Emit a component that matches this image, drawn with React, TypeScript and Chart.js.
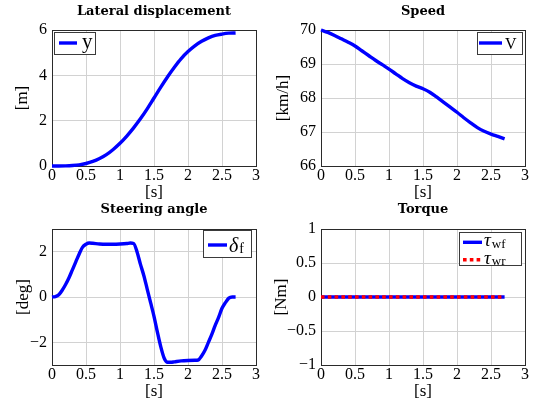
import React, { useEffect, useRef } from "react";
import { Chart, registerables } from "chart.js";

Chart.register(...registerables);

const SERIF = "'Liberation Serif', 'DejaVu Serif', serif";
const TITLE_FONT = "'DejaVu Serif', 'Liberation Serif', serif";
const GRID = "#d2d2d2";

// ---------- data ----------
const timeTicks = [0, 0.5, 1, 1.5, 2, 2.5, 3];

const latTime = [0, 0.1, 0.2, 0.3, 0.4, 0.5, 0.6, 0.7, 0.8, 0.9, 1.0, 1.1, 1.2, 1.3, 1.4, 1.5, 1.6, 1.7, 1.8, 1.9, 2.0, 2.1, 2.2, 2.3, 2.4, 2.5, 2.6, 2.7];
const latY = [0, 0, 0.005, 0.02, 0.05, 0.11, 0.2, 0.33, 0.5, 0.73, 1.0, 1.32, 1.68, 2.08, 2.52, 3.0, 3.48, 3.94, 4.36, 4.74, 5.05, 5.3, 5.5, 5.65, 5.76, 5.82, 5.86, 5.87];
const latTicks = [0, 2, 4, 6];

const speedTime = [0, 0.1, 0.2, 0.3, 0.4, 0.5, 0.6, 0.7, 0.8, 0.9, 1.0, 1.1, 1.2, 1.3, 1.4, 1.5, 1.6, 1.7, 1.8, 1.9, 2.0, 2.1, 2.2, 2.3, 2.4, 2.5, 2.6, 2.7];
const speedV = [70, 69.93, 69.84, 69.74, 69.64, 69.53, 69.39, 69.25, 69.11, 68.98, 68.85, 68.71, 68.57, 68.45, 68.35, 68.27, 68.17, 68.03, 67.88, 67.73, 67.58, 67.42, 67.27, 67.13, 67.02, 66.94, 66.87, 66.8];
const speedTicks = [66, 67, 68, 69, 70];

const steerTime = [0, 0.05, 0.1, 0.15, 0.2, 0.25, 0.3, 0.35, 0.4, 0.45, 0.5, 0.55, 0.6, 0.7, 0.8, 0.9, 1.0, 1.1, 1.15, 1.2, 1.25, 1.3, 1.35, 1.4, 1.45, 1.5, 1.55, 1.6, 1.65, 1.7, 1.75, 1.8, 1.9, 2.0, 2.1, 2.15, 2.2, 2.25, 2.3, 2.35, 2.4, 2.45, 2.5, 2.55, 2.6, 2.65, 2.7];
const steerDelta = [0, 0.02, 0.1, 0.3, 0.55, 0.85, 1.2, 1.55, 1.9, 2.2, 2.33, 2.38, 2.37, 2.34, 2.33, 2.33, 2.34, 2.36, 2.38, 2.36, 2.0, 1.45, 0.95, 0.35, -0.25, -0.85, -1.55, -2.2, -2.7, -2.88, -2.88, -2.86, -2.82, -2.8, -2.79, -2.78, -2.6, -2.35, -2.0, -1.65, -1.25, -0.9, -0.5, -0.25, -0.05, 0, 0];
const steerTicks = [-2, 0, 2];

const torqueTime = [0, 0.5, 1, 1.5, 2, 2.5, 2.7];
const tauWf = [0, 0, 0, 0, 0, 0, 0];
const tauWr = [0, 0, 0, 0, 0, 0, 0];
const torqueTicks = [-1, -0.5, 0, 0.5, 1];

// ---------- helpers ----------
const pts = (t: number[], v: number[]) => t.map((x, i) => ({ x, y: v[i] }));
const fmt = (v: any) => String(v).replace("-", "\u2212");

type LegendCfg = {
  anchor: "left" | "right";
  dx: number; dy: number; w: number; h: number;
  rows: number[]; sx: number; slen: number; tx: number;
  fs: number; ss: number; base: number; drop: number;
};

function makeLegendPlugin(cfg: LegendCfg) {
  return {
    id: "boxLegend",
    afterDraw(chart: any) {
      const { ctx, chartArea: a } = chart;
      const left = Math.round(cfg.anchor === "left" ? a.left + cfg.dx : a.right - cfg.dx - cfg.w);
      const top = Math.round(a.top + cfg.dy);
      ctx.save();
      ctx.fillStyle = "#ffffff";
      ctx.fillRect(left, top, cfg.w, cfg.h);
      ctx.strokeStyle = "#3a3a3a";
      ctx.lineWidth = 1;
      ctx.setLineDash([]);
      ctx.strokeRect(left + 0.5, top + 0.5, cfg.w, cfg.h);
      chart.data.datasets.forEach((ds: any, i: number) => {
        const cy = top + cfg.rows[i];
        ctx.beginPath();
        ctx.strokeStyle = ds.borderColor;
        ctx.lineWidth = ds.borderWidth;
        ctx.lineCap = "butt";
        ctx.setLineDash(ds.borderDash || []);
        ctx.moveTo(left + cfg.sx, cy);
        ctx.lineTo(left + cfg.sx + cfg.slen, cy);
        ctx.stroke();
        ctx.setLineDash([]);
        const [main, sub] = String(ds.label).split("_");
        const greek = /[\u0370-\u03ff]/.test(main);
        ctx.fillStyle = "#000";
        ctx.textBaseline = "alphabetic";
        ctx.textAlign = "left";
        ctx.font = `${greek ? "italic " : ""}${cfg.fs}px ${SERIF}`;
        const x0 = left + cfg.tx;
        ctx.fillText(main, x0, cy + cfg.base);
        if (sub) {
          const w = ctx.measureText(main).width;
          ctx.font = `${cfg.ss}px ${SERIF}`;
          ctx.fillText(sub, x0 + w + 1, cy + cfg.base + cfg.drop);
        }
      });
      ctx.restore();
    },
  };
}

const framePlugin = {
  id: "frame",
  beforeDatasetsDraw(chart: any) {
    const { ctx, chartArea: a } = chart;
    const l = Math.round(a.left), t = Math.round(a.top), r = Math.round(a.right), b = Math.round(a.bottom);
    ctx.save();
    ctx.strokeStyle = "#2a2a2a";
    ctx.lineWidth = 1;
    ctx.strokeRect(l + 0.5, t + 0.5, r - l, b - t);
    ctx.restore();
  },
};

type Series = { label: string; t: number[]; v: number[]; color: string; dash?: number[]; order?: number };
type Spec = {
  title: string; yTitle: string; yMin: number; yMax: number; yTicks: number[];
  series: Series[]; legend: LegendCfg;
  left: number; top: number; height: number;
  titlePad: { top: number; bottom: number };
  yTitlePad: number; xAxisH: number; xTitlePad: number;
};

const specs: Spec[] = [
  {
    title: "Lateral displacement", yTitle: "[m]", yMin: 0, yMax: 6, yTicks: latTicks,
    series: [{ label: "y", t: latTime, v: latY, color: "#0000ff" }],
    legend: { anchor: "left", dx: 2, dy: 2, w: 41, h: 22, rows: [11], sx: 5, slen: 18, tx: 28, fs: 21, ss: 13, base: 4.5, drop: 0 },
    left: 0, top: 0, height: 206, titlePad: { top: 5.5, bottom: 11.5 }, yTitlePad: 12.8, xAxisH: 40, xTitlePad: 2.8,
  },
  {
    title: "Speed", yTitle: "[km/h]", yMin: 66, yMax: 70, yTicks: speedTicks,
    series: [{ label: "V", t: speedTime, v: speedV, color: "#0000ff" }],
    legend: { anchor: "right", dx: 3, dy: 2, w: 45, h: 22, rows: [11], sx: 2, slen: 23, tx: 28, fs: 16, ss: 13, base: 5.5, drop: 0 },
    left: 269, top: 0, height: 206, titlePad: { top: 5.5, bottom: 11.5 }, yTitlePad: 4.8, xAxisH: 40, xTitlePad: 2.8,
  },
  {
    title: "Steering angle", yTitle: "[deg]", yMin: -3, yMax: 3, yTicks: steerTicks,
    series: [{ label: "δ_f", t: steerTime, v: steerDelta, color: "#0000ff" }],
    legend: { anchor: "right", dx: 5, dy: 1, w: 48, h: 27, rows: [15], sx: 5, slen: 19, tx: 26, fs: 20, ss: 14, base: 6.5, drop: 1.5 },
    left: 0, top: 198, height: 206, titlePad: { top: 4.7, bottom: 13.3 }, yTitlePad: 13.8, xAxisH: 39, xTitlePad: 1.8,
  },
  {
    title: "Torque", yTitle: "[Nm]", yMin: -1, yMax: 1, yTicks: torqueTicks,
    series: [
      { label: "τ_wf", t: torqueTime, v: tauWf, color: "#0000ff", order: 1 },
      { label: "τ_wr", t: torqueTime, v: tauWr, color: "#ff0000", dash: [3.6, 3.2], order: 0 },
    ],
    legend: { anchor: "right", dx: 4, dy: 3, w: 62, h: 33, rows: [10.3, 27.7], sx: 4, slen: 19, tx: 25, fs: 19, ss: 13, base: 4, drop: 1.5 },
    left: 269, top: 198, height: 206, titlePad: { top: 4.7, bottom: 13.3 }, yTitlePad: 2.8, xAxisH: 39, xTitlePad: 1.8,
  },
];

function Panel({ spec }: { spec: Spec }) {
  const ref = useRef<HTMLCanvasElement | null>(null);
  useEffect(() => {
    if (!ref.current) return;
    const chart = new Chart(ref.current, {
      type: "line",
      data: {
        datasets: spec.series.map((s) => ({
          label: s.label,
          data: pts(s.t, s.v),
          borderColor: s.color,
          backgroundColor: s.color,
          borderWidth: 3.4,
          borderDash: s.dash || [],
          pointRadius: 0,
          fill: false,
          cubicInterpolationMode: "monotone",
          clip: false,
          order: s.order ?? 0,
        })) as any,
      },
      options: {
        animation: false,
        responsive: false,
        devicePixelRatio: 1,
        layout: { padding: { left: 0, right: 14, top: 0, bottom: 0 } },
        plugins: {
          legend: { display: false },
          tooltip: { enabled: false },
          title: {
            display: true,
            fullSize: false,
            text: spec.title,
            color: "#000",
            font: { family: TITLE_FONT, size: 13, weight: "bold", lineHeight: 1 },
            padding: spec.titlePad,
          },
        },
        scales: {
          x: {
            type: "linear",
            min: 0,
            max: 3,
            afterBuildTicks: (s: any) => { s.ticks = timeTicks.map((v) => ({ value: v })); },
            afterFit: (s: any) => { s.height = spec.xAxisH; },
            grid: { color: GRID, lineWidth: 1, drawTicks: false },
            border: { display: false },
            ticks: { color: "#000", font: { family: SERIF, size: 16 }, padding: 0, maxRotation: 0, autoSkip: false, callback: fmt },
            title: { display: true, text: "[s]", color: "#000", font: { family: SERIF, size: 17 }, padding: { top: 0, bottom: spec.xTitlePad } },
          },
          y: {
            type: "linear",
            min: spec.yMin,
            max: spec.yMax,
            afterBuildTicks: (s: any) => { s.ticks = spec.yTicks.map((v) => ({ value: v })); },
            afterFit: (s: any) => { s.width = 52; },
            grid: { color: GRID, lineWidth: 1, drawTicks: false },
            border: { display: false },
            ticks: { color: "#000", font: { family: SERIF, size: 16 }, padding: 5, autoSkip: false, callback: fmt },
            title: { display: true, text: spec.yTitle, color: "#000", font: { family: SERIF, size: 17 }, padding: { top: spec.yTitlePad, bottom: 0 } },
          },
        },
      } as any,
      plugins: [framePlugin, makeLegendPlugin(spec.legend)] as any,
    });
    return () => chart.destroy();
  }, [spec]);
  return (
    <canvas
      ref={ref}
      width={270}
      height={spec.height}
      style={{ position: "absolute", left: spec.left, top: spec.top, width: 270, height: spec.height }}
    />
  );
}

export default function App() {
  return (
    <div style={{ position: "fixed", left: 0, top: 0, width: 539, height: 404, background: "#fff", overflow: "hidden" }}>
      {specs.map((s, i) => (
        <Panel key={i} spec={s} />
      ))}
    </div>
  );
}
